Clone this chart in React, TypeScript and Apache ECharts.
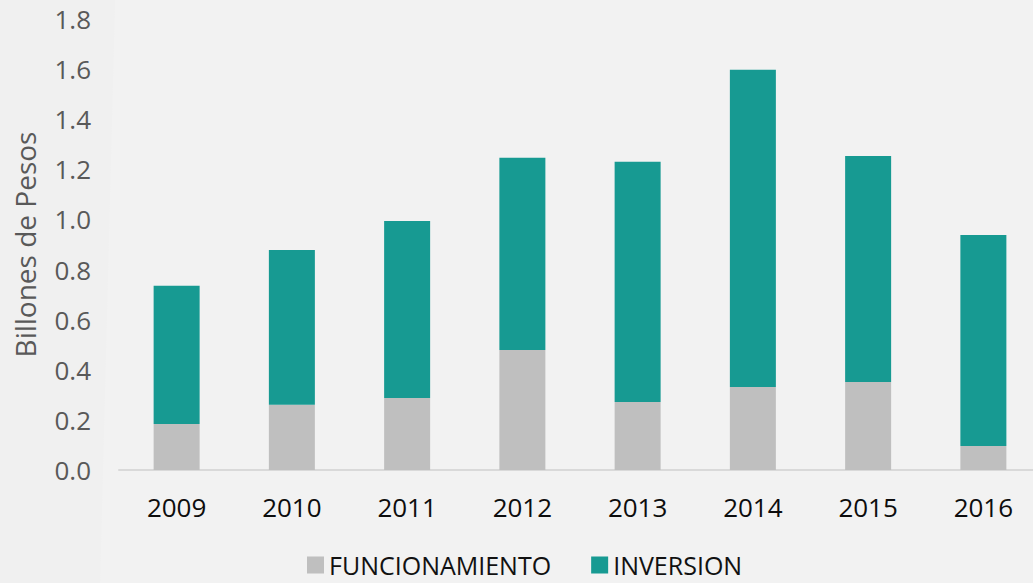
import React, { useEffect, useRef } from "react";
import * as echarts from "echarts";

const categories = ["2009", "2010", "2011", "2012", "2013", "2014", "2015", "2016"];
const funcionamiento = [0.184, 0.26, 0.287, 0.479, 0.271, 0.331, 0.351, 0.096];
const inversion = [0.551, 0.618, 0.707, 0.767, 0.959, 1.266, 0.902, 0.842];
const seriesNames = ["FUNCIONAMIENTO", "INVERSION"];
const yAxisName = "Billones de Pesos";

const FONT = "'Open Sans', 'Noto Sans', sans-serif";

export default function App() {
  const ref = useRef<HTMLDivElement>(null);
  useEffect(() => {
    if (!ref.current) return;
    const chart = echarts.init(ref.current, undefined, { renderer: "svg" });
    chart.setOption({
      animation: false,
      backgroundColor: "#f2f2f2",
      graphic: [
        {
          type: "polygon",
          silent: true,
          z: -10,
          shape: { points: [[0, 0], [115, 0], [100, 583], [0, 583]] },
          style: { fill: "#f0f0f0" },
        },
      ],
      grid: { left: 119, right: 1, top: 19, bottom: 113, containLabel: false },
      legend: {
        left: 307,
        top: 552,
        padding: 0,
        itemWidth: 17,
        itemHeight: 17,
        itemGap: 40,
        icon: "rect",
        textStyle: { fontFamily: FONT, fontSize: 25, lineHeight: 26, color: "#111111" },
        data: seriesNames,
      },
      xAxis: {
        type: "category",
        data: categories,
        axisLine: { lineStyle: { color: "#d9d9d9", width: 2 } },
        axisTick: { show: false },
        axisLabel: { fontFamily: FONT, fontSize: 26, color: "#0d0d0d", margin: 24 },
      },
      yAxis: {
        type: "value",
        min: 0,
        max: 1.8,
        interval: 0.2,
        name: yAxisName,
        nameLocation: "middle",
        nameGap: 80,
        nameTextStyle: { fontFamily: FONT, fontSize: 28, color: "#595959" },
        axisLine: { show: false },
        axisTick: { show: false },
        splitLine: { show: false },
        axisLabel: {
          fontFamily: FONT,
          fontSize: 26,
          color: "#595959",
          margin: 28,
          formatter: (v: number) => v.toFixed(1),
        },
      },
      series: [
        {
          name: seriesNames[0],
          type: "bar",
          stack: "total",
          barWidth: 46,
          itemStyle: { color: "#bfbfbf" },
          data: funcionamiento,
        },
        {
          name: seriesNames[1],
          type: "bar",
          stack: "total",
          barWidth: 46,
          itemStyle: { color: "#179a92" },
          data: inversion,
        },
      ],
    });
    return () => chart.dispose();
  }, []);
  return (
    <div style={{ position: "fixed", left: 0, top: 0, width: 1033, height: 583, overflow: "hidden" }}>
      <div ref={ref} style={{ width: 1042, height: 583 }} />
    </div>
  );
}
